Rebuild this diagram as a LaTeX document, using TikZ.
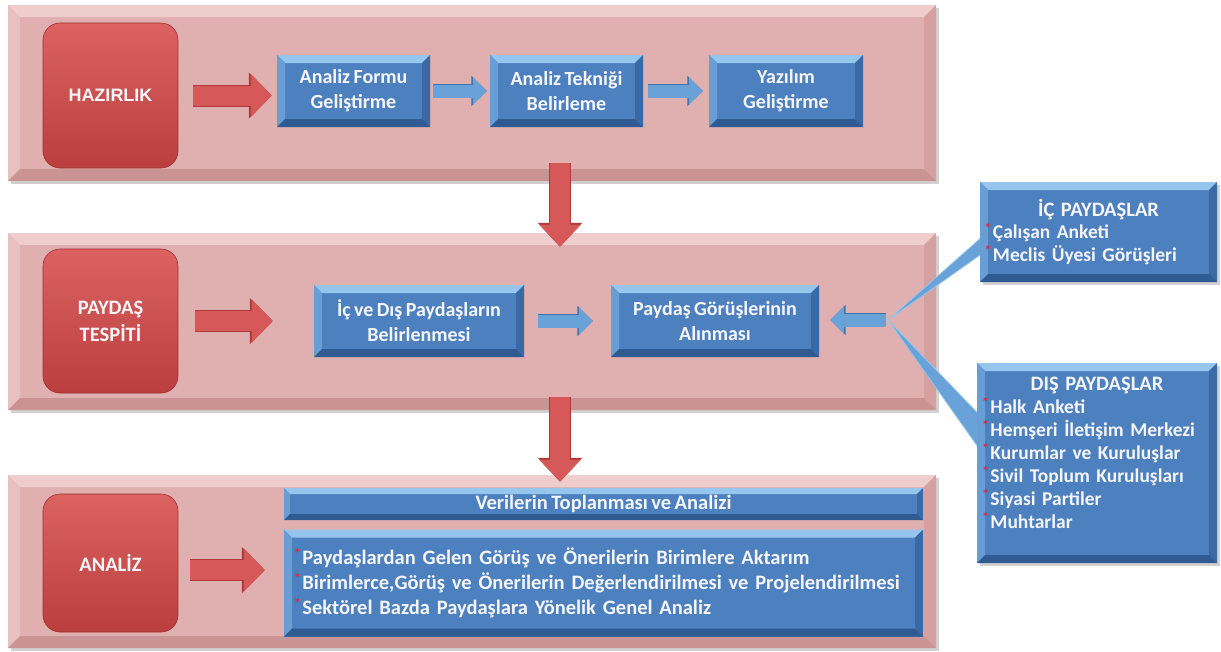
\documentclass[tikz,border=0pt]{standalone}
\usepackage{fontspec}
\setmainfont{Carlito}[WordSpace=0.75]
\newfontfamily\arialfont{Liberation Sans}
\usetikzlibrary{arrows.meta,calc,shadows}
\definecolor{pinkface}{RGB}{224,175,175}
\definecolor{pinktop}{RGB}{239,205,205}
\definecolor{pinkleft}{RGB}{231,192,192}
\definecolor{pinkright}{RGB}{212,160,160}
\definecolor{pinkbot}{RGB}{202,148,148}
\definecolor{blueface}{RGB}{76,128,190}
\definecolor{bluetop}{RGB}{150,198,238}
\definecolor{blueleft}{RGB}{104,158,212}
\definecolor{blueright}{RGB}{58,106,166}
\definecolor{bluebot}{RGB}{48,90,146}
\definecolor{redtop}{RGB}{220,98,98}
\definecolor{redbot}{RGB}{186,62,62}
\definecolor{redline}{RGB}{160,48,48}
\definecolor{arrowred}{RGB}{214,88,88}
\definecolor{arrowredline}{RGB}{176,58,58}
\definecolor{arrowblue}{RGB}{104,162,216}
\definecolor{arrowblueline}{RGB}{62,112,170}
\definecolor{bulred}{RGB}{232,36,60}
\definecolor{txtwhite}{RGB}{246,246,250}
\newcommand\facets[5]{%
  \fill[#2] (path picture bounding box.north west) -- (path picture bounding box.north east)
     -- ([shift={(-#1,-#1)}]path picture bounding box.north east) -- ([shift={(#1,-#1)}]path picture bounding box.north west) -- cycle;
  \fill[#3] (path picture bounding box.north west) -- ([shift={(#1,-#1)}]path picture bounding box.north west)
     -- ([shift={(#1,#1)}]path picture bounding box.south west) -- (path picture bounding box.south west) -- cycle;
  \fill[#4] (path picture bounding box.north east) -- ([shift={(-#1,-#1)}]path picture bounding box.north east)
     -- ([shift={(-#1,#1)}]path picture bounding box.south east) -- (path picture bounding box.south east) -- cycle;
  \fill[#5] (path picture bounding box.south west) -- ([shift={(#1,#1)}]path picture bounding box.south west)
     -- ([shift={(-#1,#1)}]path picture bounding box.south east) -- (path picture bounding box.south east) -- cycle;
}
\newcommand\bul{\textcolor{bulred}{\raisebox{.3em}{\fontsize{14}{14}\selectfont *}}\hspace{1.5pt}}
\tikzset{
  bev/.style n args={5}{path picture={\facets{#1}{#2}{#3}{#4}{#5}}},
  panel/.style={rectangle, fill=pinkface, inner sep=0pt,
     bev={12pt}{pinktop}{pinkleft}{pinkright}{pinkbot}},
  redbox/.style={rectangle, rounded corners=17pt, top color=redtop, bottom color=redbot,
     draw=redline, line width=0.6pt, text=txtwhite, align=center, inner sep=0pt,
     font=\bfseries\fontsize{20.5}{27}\selectfont},
  bluebox/.style={rectangle, fill=blueface, inner sep=0pt, text=txtwhite, align=center,
     bev={8pt}{bluetop}{blueleft}{blueright}{bluebot},
     font=\bfseries\fontsize{20}{25}\selectfont},
  redarr/.style={preaction={draw=arrowredline, line width=22pt, -{Triangle[length=23pt,width=45pt]}},
     draw=arrowred, line width=20pt, -{Triangle[length=21pt,width=42pt]}},
  bluearr/.style={preaction={draw=arrowblueline, line width=14.6pt, -{Triangle[length=15.5pt,width=29.5pt]}},
     draw=arrowblue, line width=13pt, -{Triangle[length=14pt,width=27pt]}},
  downarr/.style={preaction={draw=arrowredline, line width=22pt, -{Triangle[length=24pt,width=43pt]}},
     draw=arrowred, line width=20pt, -{Triangle[length=22pt,width=40pt]}},
  wedge/.style={fill=arrowblue, draw=bluetop, line width=0.8pt},
  shade/.style={fill=black, opacity=0.18},
}
\begin{document}
\begin{tikzpicture}[x=1pt,y=-1pt]
\fill[white] (0,0) rectangle (1221,651);
\useasboundingbox (0,0) rectangle (1221,651);

% shadows of panels
\fill[shade] (11,8) rectangle (939,184);
\fill[shade] (11,236) rectangle (939,413);
\fill[shade] (11,478) rectangle (939,651);

% panels
\node[panel, minimum width=928pt, minimum height=176pt] (p1) at (472,93) {};
\node[panel, minimum width=928pt, minimum height=177pt] (p2) at (472,321.5) {};
\node[panel, minimum width=928pt, minimum height=173pt] (p3) at (472,561.5) {};

% down arrows between panels
\draw[downarr] ([xshift=88pt,yshift=18pt]p1.south) -- ([xshift=88pt,yshift=-14pt]p2.north);
\draw[downarr] ([xshift=88pt,yshift=13pt]p2.south) -- ([xshift=88pt,yshift=-7pt]p3.north);

% red boxes
\node[redbox, minimum width=135pt, minimum height=145pt,
      font=\arialfont\bfseries\fontsize{18}{21}\selectfont] (hz1) at (110.5,95.5) {HAZIRLIK};
\node[redbox, minimum width=135pt, minimum height=144pt] (hz2) at (110.5,321) {PAYDAŞ\\TESPİTİ};
\node[redbox, minimum width=135pt, minimum height=138pt] (hz3) at (110.5,563) {ANALİZ};

% panel 1 blue boxes
\node[bluebox, minimum width=153pt, minimum height=72pt] (formu) at (353.5,91) {Analiz Formu\\Geliştirme};
\node[bluebox, minimum width=153pt, minimum height=72pt] (teknigi) at (566.5,91) {Analiz Tekniği\\Belirleme};
\node[bluebox, minimum width=154pt, minimum height=72pt] (yazilim) at (786,91) {Yazılım\\Geliştirme};

% panel 2 blue boxes
\node[bluebox, minimum width=210pt, minimum height=72pt] (icdis) at (419,321) {İç ve Dış Paydaşların\\Belirlenmesi};
\node[bluebox, minimum width=208pt, minimum height=72pt] (gorus) at (715,321) {Paydaş Görüşlerinin\\Alınması};

% panel 3 blue boxes
\node[bluebox, minimum width=639pt, minimum height=32pt, bev={6pt}{bluetop}{blueleft}{blueright}{bluebot},
      font=\bfseries\fontsize{20.5}{24}\selectfont] (veri) at (603.5,504) {Verilerin Toplanması ve Analizi};
\node[bluebox, minimum width=639pt, minimum height=107pt, text width=619pt, align=left,
      font=\bfseries\fontsize{20.5}{25}\selectfont] (items) at (603.5,583)
  {\bul Paydaşlardan Gelen Görüş ve Önerilerin Birimlere Aktarım\\
   \bul Birimlerce,Görüş ve Önerilerin Değerlendirilmesi ve Projelendirilmesi\\
   \bul Sektörel Bazda Paydaşlara Yönelik Genel Analiz};

% callout wedges
\coordinate (apex) at (888,320);
\coordinate (icw1) at (1000,221);
\coordinate (icw2) at (1000,241);
\coordinate (disw1) at (995,431);
\coordinate (disw2) at (995,471);
\filldraw[wedge] (apex) -- (icw1) -- (icw2) -- cycle;
\filldraw[wedge] (apex) -- (disw1) -- (disw2) -- cycle;

% stakeholder boxes
\fill[shade] (983,185) rectangle (1220,285);
\fill[shade] (980,366) rectangle (1220,566);
\node[bluebox, minimum width=237pt, minimum height=100pt, text width=228pt, align=left,
      font=\bfseries\fontsize{19.5}{22.5}\selectfont] (ic) at (1098.5,232)
  {{\centering\fontsize{20.5}{25}\selectfont İÇ PAYDAŞLAR\par}\raggedright
   \bul Çalışan Anketi\\
   \bul Meclis Üyesi Görüşleri};
\node[bluebox, minimum width=240pt, minimum height=200pt, text width=230pt, align=left,
      font=\bfseries\fontsize{19.5}{23}\selectfont] (dis) at (1097,463)
  {{\centering\fontsize{20.5}{24}\selectfont DIŞ PAYDAŞLAR\par}\raggedright
   \bul Halk Anketi\\
   \bul Hemşeri İletişim Merkezi\\
   \bul Kurumlar ve Kuruluşlar\\
   \bul Sivil Toplum Kuruluşları\\
   \bul Siyasi Partiler\\
   \bul Muhtarlar\par\vspace{20pt}};

% horizontal block arrows
\draw[redarr, shorten <=15pt, shorten >=5pt] (hz1.east) -- (hz1.east -| formu.west);
\draw[bluearr, shorten <=3pt, shorten >=3pt] (formu) -- (teknigi);
\draw[bluearr, shorten <=5pt, shorten >=6pt] (teknigi) -- (yazilim);
\draw[redarr, shorten <=17pt, shorten >=41pt] (hz2.east) -- (hz2.east -| icdis.west);
\draw[bluearr, shorten <=14pt, shorten >=18pt] (icdis) -- (gorus);
\draw[bluearr, shorten <=2pt, shorten >=11pt] (apex) -- (apex -| gorus.east);
\draw[redarr, shorten <=12pt, shorten >=19pt] ([yshift=-7pt]hz3.east) -- ([yshift=-7pt]hz3.east -| items.west);
\end{tikzpicture}
\end{document}
